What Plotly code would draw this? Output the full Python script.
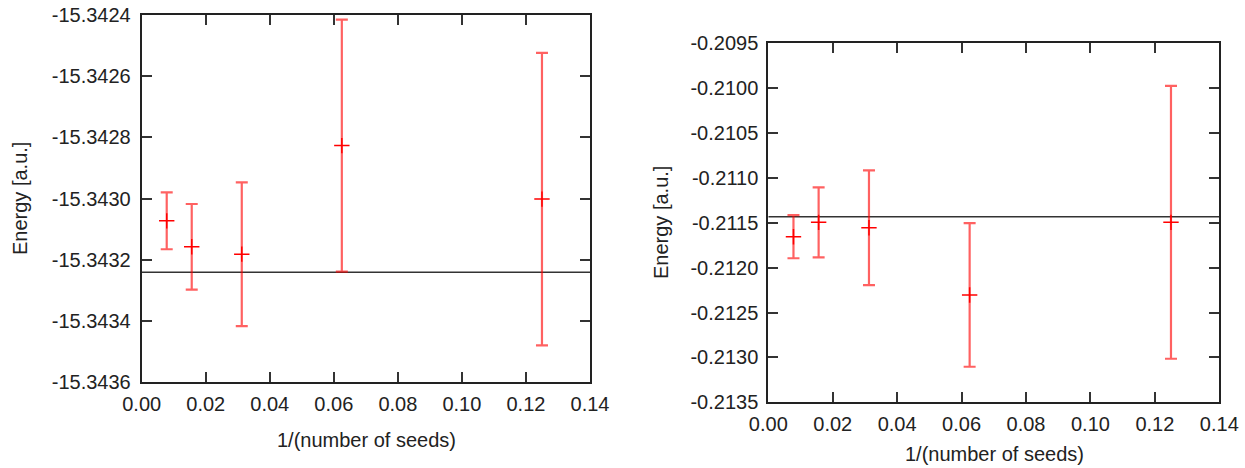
import plotly.graph_objects as go

# ---------------- data ----------------
inv_seeds = [1/128, 1/64, 1/32, 1/16, 1/8]

left_energy = [-15.343073, -15.343158, -15.343182, -15.342827, -15.343002]
left_err = [0.000093, 0.000140, 0.000235, 0.000412, 0.000478]
left_reference = -15.343241

right_energy = [-0.211655, -0.211495, -0.211555, -0.212304, -0.211495]
right_err = [0.00024, 0.00039, 0.00064, 0.00080, 0.00152]
right_reference = -0.211432

x_ticks = [0.00, 0.02, 0.04, 0.06, 0.08, 0.10, 0.12, 0.14]
x_ticktext = ["0.00", "0.02", "0.04", "0.06", "0.08", "0.10", "0.12", "0.14"]
left_yticks = [-15.3436, -15.3434, -15.3432, -15.3430, -15.3428, -15.3426, -15.3424]
left_yticktext = ["-15.3436", "-15.3434", "-15.3432", "-15.3430", "-15.3428", "-15.3426", "-15.3424"]
right_yticks = [-0.2135, -0.2130, -0.2125, -0.2120, -0.2115, -0.2110, -0.2105, -0.2100, -0.2095]
right_yticktext = ["-0.2135", "-0.2130", "-0.2125", "-0.2120", "-0.2115", "-0.2110", "-0.2105", "-0.2100", "-0.2095"]

x_title = "1/(number of seeds)"
y_title = "Energy [a.u.]"

# ---------------- figure ----------------
W, H = 1245, 468
FONT = "Liberation Sans, Arial, Helvetica, sans-serif"
RED = "#ff0000"
ERR = "rgba(255,0,0,0.62)"
FS = 20

fig = go.Figure()

def add_panel(xa, ya, energy, err, ref):
    fig.add_trace(go.Scatter(
        x=[x_ticks[0], x_ticks[-1]], y=[ref, ref], mode="lines",
        line=dict(color="#333333", width=1.5), xaxis=xa, yaxis=ya,
        showlegend=False, hoverinfo="skip"))
    fig.add_trace(go.Scatter(
        x=inv_seeds, y=energy, mode="markers",
        marker=dict(symbol="cross-thin", size=11, color=RED,
                    line=dict(color=RED, width=1.5)),
        error_y=dict(type="data", array=err, visible=True,
                     color=ERR, thickness=2.2, width=6),
        xaxis=xa, yaxis=ya, showlegend=False))

add_panel("x", "y", left_energy, left_err, left_reference)
add_panel("x2", "y2", right_energy, right_err, right_reference)

axis_common = dict(
    showline=True, linecolor="#222222", linewidth=2, mirror="allticks",
    ticks="inside", ticklen=10, tickwidth=1.5, tickcolor="#333333",
    showgrid=False, zeroline=False, automargin=False,
    tickfont=dict(family=FONT, size=FS, color="#222222"),
)

def px_x(p):
    return p / W

def px_y(p):
    return 1 - p / H

fig.update_layout(
    width=W, height=H,
    margin=dict(l=0, r=0, t=0, b=0),
    paper_bgcolor="white", plot_bgcolor="white",
    font=dict(family=FONT, size=FS, color="#222222"),
    xaxis=dict(domain=[px_x(141.7), px_x(590)], range=[0, 0.14],
               tickmode="array", tickvals=x_ticks, ticktext=x_ticktext,
               anchor="y", ticklabelstandoff=3, **axis_common),
    yaxis=dict(domain=[px_y(382), px_y(15)], range=[-15.3436, -15.3424],
               tickmode="array", tickvals=left_yticks, ticktext=left_yticktext,
               anchor="x", ticklabelstandoff=5, **axis_common),
    xaxis2=dict(domain=[px_x(768.3), px_x(1219.3)], range=[0, 0.14],
                tickmode="array", tickvals=x_ticks, ticktext=x_ticktext,
                anchor="y2", ticklabelstandoff=3, **axis_common),
    yaxis2=dict(domain=[px_y(402.3), px_y(43.3)], range=[-0.2135, -0.2095],
                tickmode="array", tickvals=right_yticks, ticktext=right_yticktext,
                anchor="x2", ticklabelstandoff=4, **axis_common),
)

ann_font = dict(family=FONT, size=FS, color="#222222")
fig.add_annotation(text=x_title, x=px_x(366), y=px_y(440), xref="paper", yref="paper",
                   showarrow=False, font=ann_font, xanchor="center", yanchor="middle")
fig.add_annotation(text=x_title, x=px_x(994), y=px_y(454), xref="paper", yref="paper",
                   showarrow=False, font=ann_font, xanchor="center", yanchor="middle")
fig.add_annotation(text=y_title, x=px_x(20), y=px_y(199), xref="paper", yref="paper",
                   showarrow=False, font=ann_font, textangle=-90, xanchor="center", yanchor="middle")
fig.add_annotation(text=y_title, x=px_x(661), y=px_y(223), xref="paper", yref="paper",
                   showarrow=False, font=ann_font, textangle=-90, xanchor="center", yanchor="middle")

fig.write_html("out.html")
